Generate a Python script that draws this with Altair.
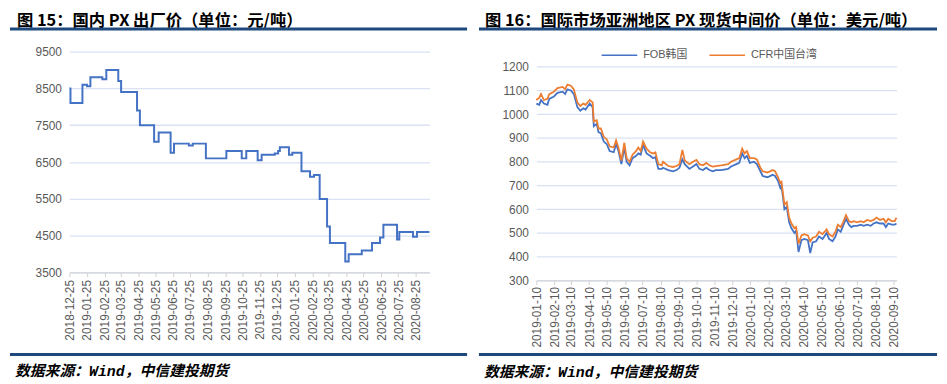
import altair as alt
import pandas as pd

# ---------------- text ----------------
LEFT_TITLE = "图 15：国内 PX 出厂价（单位：元/吨）"
RIGHT_TITLE = "图 16：国际市场亚洲地区 PX 现货中间价（单位：美元/吨）"
SOURCE = "数据来源：Wind，中信建投期货"

# ---------------- left panel data (step series) ----------------
dom_dates = [
    "2018-12-25", "2018-12-27", "2019-01-17", "2019-01-25", "2019-01-31",
    "2019-02-21", "2019-02-28", "2019-03-21", "2019-03-26", "2019-04-23",
    "2019-04-28", "2019-05-23", "2019-05-31", "2019-06-21", "2019-06-27",
    "2019-07-23", "2019-07-30", "2019-08-22", "2019-09-27", "2019-10-24",
    "2019-11-01", "2019-11-21", "2019-11-28", "2019-12-21", "2019-12-27",
    "2019-12-30", "2020-01-15", "2020-01-21", "2020-02-06", "2020-02-21",
    "2020-02-28", "2020-03-09", "2020-03-22", "2020-03-27", "2020-04-23",
    "2020-04-29", "2020-05-22", "2020-06-09", "2020-06-23", "2020-06-29",
    "2020-07-23", "2020-07-27", "2020-08-20", "2020-08-27", "2020-09-18",
]
dom_price = [
    8500, 8100, 8600, 8560, 8800,
    8750, 9000, 8700, 8400, 7900,
    7500, 7050, 7300, 6750, 7000,
    6950, 7000, 6600, 6800, 6600,
    6800, 6550, 6700, 6730, 6800,
    6900, 6700, 6750, 6250, 6100,
    6150, 5500, 4750, 4300, 3800,
    4000, 4100, 4300, 4450, 4800,
    4400, 4600, 4470, 4600, 4600,
]
dom_x_ticks = [
    "2018-12-25", "2019-01-25", "2019-02-25", "2019-03-25", "2019-04-25",
    "2019-05-25", "2019-06-25", "2019-07-25", "2019-08-25", "2019-09-25",
    "2019-10-25", "2019-11-25", "2019-12-25", "2020-01-25", "2020-02-25",
    "2020-03-25", "2020-04-25", "2020-05-25", "2020-06-25", "2020-07-25",
    "2020-08-25",
]
dom_x_range = ["2018-12-25", "2020-09-18"]
dom_y_ticks = [3500, 4500, 5500, 6500, 7500, 8500, 9500]

# ---------------- right panel data ----------------
intl_dates = [
    "2019-01-10", "2019-01-15", "2019-01-18", "2019-01-23", "2019-01-29",
    "2019-02-01", "2019-02-09", "2019-02-15", "2019-02-24", "2019-02-28",
    "2019-03-04", "2019-03-10", "2019-03-15", "2019-03-21", "2019-03-26",
    "2019-03-31", "2019-04-04", "2019-04-11", "2019-04-16", "2019-04-18",
    "2019-04-23", "2019-04-26", "2019-04-30", "2019-05-05", "2019-05-10",
    "2019-05-15", "2019-05-22", "2019-05-26", "2019-05-30", "2019-06-04",
    "2019-06-09", "2019-06-13", "2019-06-18", "2019-06-23", "2019-06-29",
    "2019-07-03", "2019-07-07", "2019-07-11", "2019-07-17", "2019-07-23",
    "2019-07-28", "2019-08-01", "2019-08-06", "2019-08-12", "2019-08-14",
    "2019-08-23", "2019-08-31", "2019-09-06", "2019-09-11", "2019-09-16",
    "2019-09-20", "2019-09-28", "2019-10-04", "2019-10-10", "2019-10-15",
    "2019-10-21", "2019-10-27", "2019-11-01", "2019-11-07", "2019-11-12",
    "2019-11-21", "2019-12-03", "2019-12-08", "2019-12-17", "2019-12-22",
    "2019-12-27", "2019-12-31", "2020-01-04", "2020-01-09", "2020-01-16",
    "2020-01-21", "2020-01-27", "2020-01-31", "2020-02-08", "2020-02-17",
    "2020-02-21", "2020-02-26", "2020-03-01", "2020-03-03", "2020-03-08",
    "2020-03-12", "2020-03-16", "2020-03-20", "2020-03-25", "2020-03-28",
    "2020-04-01", "2020-04-06", "2020-04-11", "2020-04-17", "2020-04-21",
    "2020-04-25", "2020-05-01", "2020-05-06", "2020-05-12", "2020-05-19",
    "2020-05-23", "2020-05-29", "2020-06-03", "2020-06-07", "2020-06-12",
    "2020-06-16", "2020-06-21", "2020-06-26", "2020-06-30", "2020-07-04",
    "2020-07-10", "2020-07-16", "2020-07-21", "2020-07-27", "2020-08-02",
    "2020-08-07", "2020-08-12", "2020-08-18", "2020-08-24", "2020-08-28",
    "2020-09-01", "2020-09-07", "2020-09-12", "2020-09-15",
]
fob_korea = [
    1045, 1040, 1060, 1045, 1040,
    1065, 1075, 1090, 1095, 1085,
    1105, 1100, 1085, 1030, 1015,
    1025, 1020, 1045, 1030, 950,
    960, 925, 920, 885, 875,
    845, 840, 875, 845, 790,
    860, 800, 785, 815, 825,
    835, 830, 870, 835, 825,
    815, 820, 770, 770, 775,
    765, 760, 765, 775, 810,
    790, 770, 780, 790, 770,
    765, 775, 765, 760, 765,
    765, 770, 780, 790, 795,
    835, 815, 825, 795, 800,
    790, 760, 740, 735, 745,
    740, 720, 690, 700, 600,
    610, 545, 520, 500, 510,
    420, 470, 475, 470, 415,
    460, 465, 485, 475, 500,
    475, 465, 485, 515, 505,
    530, 560, 535, 525, 530,
    530, 535, 530, 535, 530,
    540, 545, 540, 540, 525,
    540, 535, 535, 540,
]
cfr_taiwan = [
    1060, 1070, 1085, 1060, 1065,
    1085, 1095, 1110, 1115, 1105,
    1125, 1120, 1105, 1050, 1035,
    1045, 1040, 1060, 1050, 970,
    975, 940, 940, 905, 895,
    865, 860, 890, 860, 805,
    880, 815, 800, 830, 845,
    860, 845, 885, 855, 840,
    835, 840, 790, 785, 800,
    782, 778, 782, 790, 850,
    805, 790, 800, 808, 790,
    785, 795, 785, 780, 782,
    785, 790, 800, 810, 815,
    855, 835, 845, 815, 815,
    810, 775, 760, 755, 765,
    760, 735, 710, 715, 620,
    630, 565, 540, 520, 525,
    455, 490, 495, 490, 465,
    480, 485, 505, 495, 515,
    495, 485, 505, 535, 525,
    545, 575, 550, 545, 550,
    545, 550, 545, 555, 550,
    555, 565, 555, 560, 545,
    560, 550, 550, 565,
]
series_names = ["FOB韩国", "CFR中国台湾"]
series_colors = ["#4472C4", "#ED7D31"]
intl_x_ticks = [
    "2019-01-10", "2019-02-10", "2019-03-10", "2019-04-10", "2019-05-10",
    "2019-06-10", "2019-07-10", "2019-08-10", "2019-09-10", "2019-10-10",
    "2019-11-10", "2019-12-10", "2020-01-10", "2020-02-10", "2020-03-10",
    "2020-04-10", "2020-05-10", "2020-06-10", "2020-07-10", "2020-08-10",
    "2020-09-10",
]
intl_x_range = ["2019-01-10", "2020-09-15"]
intl_y_ticks = [300, 400, 500, 600, 700, 800, 900, 1000, 1100, 1200]

# ---------------- styling ----------------
NAVY = "#1F497D"
LABEL_GRAY = "#595959"
GRID = "#D9E1F2"
AXIS_FONT = "Liberation Sans"
TITLE_FONT = "Noto Sans CJK SC"
SRC_FONT = "Liberation Mono, Noto Sans CJK SC"


def dt(s):
    y, m, d = (int(v) for v in s.split("-"))
    return alt.DateTime(year=y, month=m, date=d)


def x_enc(ticks, rng, pad):
    return alt.X(
        "date:T",
        title=None,
        scale=alt.Scale(domain=[dt(rng[0]), dt(rng[1])], nice=False),
        axis=alt.Axis(
            values=[dt(t) for t in ticks],
            format="%Y-%m-%d",
            labelAngle=270,
            labelFont=AXIS_FONT,
            labelFontSize=12,
            labelColor=LABEL_GRAY,
            labelPadding=pad,
            labelOverlap=False,
            labelFlush=False,
            labelBound=False,
            domainColor="#D0D0D0",
            domainWidth=1,
            tickColor="#D0D0D0",
            tickSize=4,
            grid=False,
        ),
    )


def y_enc(ticks, rng=None):
    sc = alt.Scale(domain=[ticks[0], ticks[-1]], nice=False, zero=False)
    if rng is not None:
        sc = alt.Scale(domain=[ticks[0], ticks[-1]], nice=False, zero=False, range=rng)
    return alt.Y(
        "price:Q",
        title=None,
        scale=sc,
        axis=alt.Axis(
            values=ticks,
            format="d",
            labelFont=AXIS_FONT,
            labelFontSize=12,
            labelColor=LABEL_GRAY,
            labelPadding=8,
            domain=False,
            ticks=False,
            grid=True,
            gridColor=GRID,
            gridWidth=1.3,
        ),
    )


one = pd.DataFrame({"k": [0]})

# Both plot groups share the same top (page y ~49); the right panel keeps an
# empty band above its 1200 line through its own y range.
TOP = 49.3


def decorations(title, title_x, x0, x1, src_x, src_y):
    # white 1px anchor that fixes the top of the panel's extent at the page edge
    anchor = alt.Chart(one).mark_rule(color="#FFFFFF", strokeWidth=0.5).encode(
        x=alt.value(x0 + 2), x2=alt.value(x0 + 3), y=alt.value(8.25 - TOP))
    t = alt.Chart(one).mark_text(
        text=title, font=TITLE_FONT, fontSize=16.5, fontWeight="bold",
        align="left", baseline="top", color="#000000",
    ).encode(x=alt.value(title_x), y=alt.value(10 - TOP))
    r1 = alt.Chart(one).mark_rule(color=NAVY, strokeWidth=3).encode(
        x=alt.value(x0), x2=alt.value(x1), y=alt.value(26.5 - TOP))
    r2 = alt.Chart(one).mark_rule(color=NAVY, strokeWidth=3).encode(
        x=alt.value(x0), x2=alt.value(x1), y=alt.value(355.5 - TOP))
    s = alt.Chart(one).mark_text(
        text=SOURCE, font=SRC_FONT, fontSize=15, fontStyle="italic",
        fontWeight="bold", align="left", baseline="middle", color="#000000",
    ).encode(x=alt.value(src_x), y=alt.value(src_y - TOP))
    return [anchor, t, r1, r2, s]


# ---------------- left panel ----------------
dom_df = pd.DataFrame({"date": pd.to_datetime(dom_dates), "price": dom_price})
left_line = alt.Chart(dom_df).mark_line(
    interpolate="step-after", color="#4472C4", strokeWidth=2
).encode(x=x_enc(dom_x_ticks, dom_x_range, 3), y=y_enc(dom_y_ticks))

L_W, L_H = 364, 223.4
left = alt.layer(
    left_line,
    *decorations(LEFT_TITLE, -53, -60, 402, -55, 372.5),
).properties(width=L_W, height=L_H)

# ---------------- right panel ----------------
n = len(intl_dates)
intl_df = pd.DataFrame({
    "date": pd.to_datetime(intl_dates * 2),
    "price": fob_korea + cfr_taiwan,
    "series": [series_names[0]] * n + [series_names[1]] * n,
})
R_W, R_H = 364, 280.7 - TOP
right_line = alt.Chart(intl_df).mark_line(strokeWidth=1.8).encode(
    x=x_enc(intl_x_ticks, intl_x_range, 2),
    y=y_enc(intl_y_ticks, rng=[R_H, 64.7 - TOP]),
    color=alt.Color(
        "series:N",
        scale=alt.Scale(domain=series_names, range=series_colors),
        legend=alt.Legend(
            title=None, orient="none", legendX=605 - 68, legendY=52 - 18 - TOP,
            direction="horizontal", symbolType="stroke", symbolSize=1296,
            symbolStrokeWidth=1.5, labelFont="Liberation Sans, Noto Sans CJK SC",
            labelFontSize=11, labelColor=LABEL_GRAY, labelOffset=5,
            columnPadding=19, padding=0,
        ),
    ),
)

right = alt.layer(
    right_line,
    *decorations(RIGHT_TITLE, -52, -58, 405, -53, 373),
).properties(width=R_W, height=R_H)

chart = alt.hconcat(left, right, spacing=8).properties(padding=0).configure_view(stroke=None)

chart.save("out.html", embed_options={"renderer": "svg", "actions": False})
